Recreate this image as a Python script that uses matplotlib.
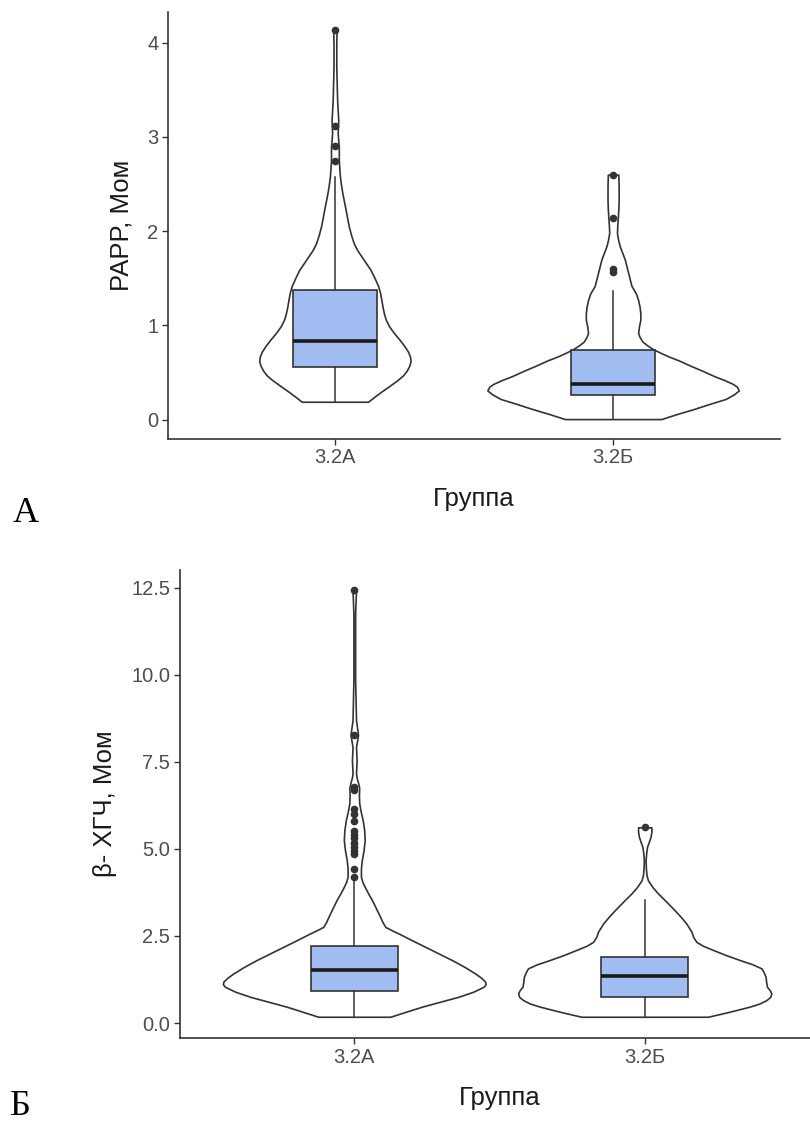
import numpy as np
import matplotlib
matplotlib.use("Agg")
import matplotlib.pyplot as plt

plt.rcParams['font.family'] = ['Liberation Sans', 'DejaVu Sans']

# ---------------- data ----------------
groups = ['3.2А', '3.2Б']

# Panel A: PAPP, MoM  (violin outline: value, half-width)
papp_a_violin_y = [0.19, 0.25, 0.30, 0.36, 0.42, 0.47, 0.52, 0.57, 0.62, 0.67, 0.72, 0.78, 0.85, 0.92, 0.99,
                   1.06, 1.13, 1.20, 1.27, 1.35, 1.42, 1.50, 1.59, 1.66, 1.73, 1.80, 1.87, 1.96, 2.05, 2.14,
                   2.22, 2.31, 2.40, 2.49, 2.58, 2.75, 2.89, 3.04, 3.18, 3.39, 3.74, 3.99, 4.13]
papp_a_violin_w = [0.119, 0.145, 0.168, 0.197, 0.225, 0.245, 0.258, 0.267, 0.272, 0.270, 0.263, 0.250, 0.232, 0.212, 0.195,
                   0.183, 0.176, 0.171, 0.167, 0.162, 0.155, 0.143, 0.128, 0.112, 0.096, 0.080, 0.068, 0.058, 0.050, 0.044,
                   0.039, 0.033, 0.027, 0.022, 0.018, 0.014, 0.014, 0.010, 0.012, 0.008, 0.005, 0.005, 0.006]
papp_b_violin_y = [0.006, 0.06, 0.11, 0.17, 0.22, 0.27, 0.31, 0.35, 0.38, 0.42, 0.46, 0.52, 0.57, 0.63, 0.67,
                   0.71, 0.75, 0.79, 0.83, 0.88, 0.92, 0.99, 1.06, 1.13, 1.20, 1.27, 1.34, 1.42, 1.49, 1.56,
                   1.63, 1.70, 1.77, 1.84, 1.91, 1.98, 2.06, 2.14, 2.24, 2.33, 2.47, 2.60]
papp_b_violin_w = [0.173, 0.230, 0.287, 0.350, 0.405, 0.435, 0.452, 0.445, 0.430, 0.400, 0.365, 0.320, 0.280, 0.235, 0.200,
                   0.170, 0.143, 0.122, 0.105, 0.095, 0.090, 0.093, 0.098, 0.098, 0.095, 0.090, 0.082, 0.066, 0.060, 0.054,
                   0.048, 0.042, 0.033, 0.024, 0.018, 0.014, 0.015, 0.017, 0.019, 0.020, 0.020, 0.019]

papp_box = {
    '3.2А': dict(whislo=0.19, q1=0.56, med=0.83, q3=1.38, whishi=2.58,
                 fliers=[2.74, 2.90, 3.12, 4.13]),
    '3.2Б': dict(whislo=0.006, q1=0.26, med=0.38, q3=0.74, whishi=1.37,
                 fliers=[1.57, 1.60, 2.14, 2.60]),
}

# Panel B: beta-hCG, MoM
hcg_a_violin_y = [0.18, 0.33, 0.47, 0.61, 0.755, 0.90, 1.04, 1.11, 1.185, 1.30, 1.425, 1.62, 1.81, 2.00, 2.19,
                  2.38, 2.57, 2.67, 2.76, 2.90, 3.05, 3.29, 3.53, 3.72, 3.91, 4.05, 4.20, 4.45, 4.68, 4.96,
                  5.25, 5.55, 5.83, 6.08, 6.31, 6.55, 6.75, 6.90, 7.05, 7.17, 7.55, 7.93, 8.27, 8.70, 9.85,
                  11.76, 12.43]
hcg_a_violin_w = [0.124, 0.180, 0.233, 0.295, 0.359, 0.410, 0.445, 0.452, 0.451, 0.437, 0.416, 0.378, 0.336, 0.290, 0.244,
                  0.198, 0.153, 0.128, 0.107, 0.097, 0.089, 0.075, 0.061, 0.048, 0.036, 0.028, 0.023, 0.023, 0.026, 0.032,
                  0.036, 0.034, 0.029, 0.022, 0.017, 0.016, 0.017, 0.013, 0.008, 0.006, 0.008, 0.006, 0.013, 0.006, 0.003,
                  0.003, 0.006]
hcg_b_violin_y = [0.18, 0.32, 0.47, 0.56, 0.66, 0.75, 0.85, 0.95, 1.04, 1.18, 1.33, 1.45, 1.57, 1.69, 1.81,
                  1.95, 2.10, 2.22, 2.33, 2.47, 2.62, 2.74, 2.86, 3.05, 3.24, 3.48, 3.72, 3.90, 4.10, 4.25,
                  4.45, 4.68, 4.88, 5.06, 5.20, 5.35, 5.50, 5.62]
hcg_b_violin_w = [0.218, 0.290, 0.361, 0.395, 0.419, 0.432, 0.436, 0.430, 0.421, 0.418, 0.416, 0.410, 0.402, 0.370, 0.327,
                  0.280, 0.235, 0.200, 0.178, 0.167, 0.161, 0.152, 0.143, 0.124, 0.103, 0.075, 0.046, 0.027, 0.011, 0.006,
                  0.004, 0.003, 0.005, 0.008, 0.014, 0.020, 0.023, 0.023]

hcg_box = {
    '3.2А': dict(whislo=0.18, q1=0.93, med=1.52, q3=2.22, whishi=4.10,
                 fliers=[4.20, 4.42, 4.86, 4.95, 5.05, 5.18, 5.30, 5.40, 5.52,
                         5.80, 6.00, 6.15, 6.70, 6.78, 8.27, 12.43]),
    '3.2Б': dict(whislo=0.18, q1=0.74, med=1.36, q3=1.89, whishi=3.53,
                 fliers=[5.62]),
}

x_title = 'Группа'
y_title_a = 'PAPP, Мом'
y_title_b = 'β- ХГЧ, Мом'

# ---------------- style ----------------
BOX_FILL = '#A0BCF0'
EDGE = '#333333'
TICK_SIZE = 14.5
TITLE_SIZE = 18.5


def draw_panel(ax, violins, boxes, ylim, yticks, yticklabels, ylabel):
    positions = [1, 2]
    for pos, (vy, vw) in zip(positions, violins):
        vy = np.asarray(vy)
        vw = np.asarray(vw)
        stats = [dict(coords=vy, vals=vw, mean=vy.mean(), median=np.median(vy),
                      min=vy.min(), max=vy.max())]
        parts = ax.violin(stats, positions=[pos], widths=2 * vw.max(),
                          showmeans=False, showextrema=False, showmedians=False)
        for b in parts['bodies']:
            b.set_facecolor('white')
            b.set_edgecolor(EDGE)
            b.set_linewidth(1.2)
            b.set_alpha(1)
            b.set_zorder(1)
            b.set_joinstyle('round')
    bstats = []
    for g in groups:
        d = dict(boxes[g])
        d['label'] = g
        bstats.append(d)
    ax.bxp(bstats, positions=positions, widths=0.3, patch_artist=True,
           showcaps=False, showfliers=True,
           boxprops=dict(facecolor=BOX_FILL, edgecolor=EDGE, linewidth=1.2),
           medianprops=dict(color='#1a1a1a', linewidth=2.6),
           whiskerprops=dict(color=EDGE, linewidth=1.1),
           flierprops=dict(marker='o', markerfacecolor=EDGE, markeredgecolor=EDGE,
                           markersize=4.5, linestyle='none'),
           zorder=2)
    ax.set_xlim(0.4, 2.6)
    ax.set_ylim(*ylim)
    ax.set_xticks(positions)
    ax.set_xticklabels(groups)
    ax.set_yticks(yticks)
    ax.set_yticklabels(yticklabels)
    for s in ['top', 'right']:
        ax.spines[s].set_visible(False)
    for s in ['left', 'bottom']:
        ax.spines[s].set_color(EDGE)
        ax.spines[s].set_linewidth(1.2)
    ax.tick_params(axis='both', direction='out', length=4, width=1.0, color=EDGE,
                   labelsize=TICK_SIZE, labelcolor='#4D4D4D', pad=3)
    ax.set_xlabel(x_title, fontsize=TITLE_SIZE, color='#1a1a1a', labelpad=14)
    ax.set_ylabel(ylabel, fontsize=TITLE_SIZE, color='#1a1a1a', labelpad=10)


fig = plt.figure(figsize=(8.10, 11.22), dpi=100)

ax1 = fig.add_axes([168 / 810, 1 - 438.5 / 1122, (780 - 168) / 810, (438.5 - 11.6) / 1122])
draw_panel(ax1, [(papp_a_violin_y, papp_a_violin_w), (papp_b_violin_y, papp_b_violin_w)],
           papp_box, (-0.20, 4.33), [0, 1, 2, 3, 4], ['0', '1', '2', '3', '4'], y_title_a)

ax2 = fig.add_axes([180 / 810, 1 - 1038 / 1122, (819 - 180) / 810, (1038 - 570) / 1122])
draw_panel(ax2, [(hcg_a_violin_y, hcg_a_violin_w), (hcg_b_violin_y, hcg_b_violin_w)],
           hcg_box, (-0.43, 13.01), [0, 2.5, 5, 7.5, 10, 12.5],
           ['0.0', '2.5', '5.0', '7.5', '10.0', '12.5'], y_title_b)

fig.text(13 / 810, 1 - 522 / 1122, 'А', fontsize=26, family='Liberation Serif',
         ha='left', va='baseline')
fig.text(10 / 810, 1 - 1115 / 1122, 'Б', fontsize=26, family='Liberation Serif',
         ha='left', va='baseline')

fig.savefig('out.png', dpi=100)
